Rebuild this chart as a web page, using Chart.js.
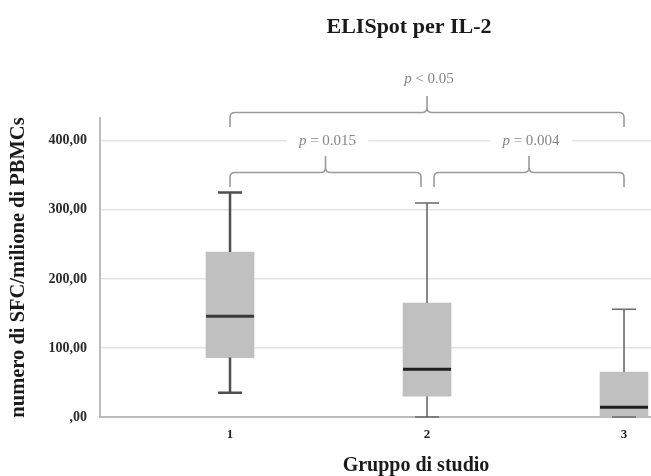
<!DOCTYPE html>
<html>
<head>
<meta charset="utf-8">
<script src="https://cdn.jsdelivr.net/npm/chart.js@4"></script>
<style>
  html, body { margin: 0; padding: 0; background: #fff; overflow: hidden; }
  canvas { display: block; }
</style>
</head>
<body>
<canvas id="boxChart" width="651" height="476"></canvas>
<script>
// ELISpot IL-2 box plot (SFC per million PBMCs)
const groups = [1, 2, 3];
const whiskerLow = [35, 0, 0];
const quartile1 = [86, 30, 0];
const medians = [146, 69, 14];
const quartile3 = [239, 165, 65];
const whiskerHigh = [325, 310, 156];

// significance brackets between groups
const pairFrom = [1, 2, 1];
const pairTo = [2, 3, 3];
const pairBase = [333, 333, 420];
const pairLabel = ['= 0.015', '= 0.004', '< 0.05'];

const yTicks = [0, 100, 200, 300, 400];

const SERIF = '"Liberation Serif", "DejaVu Serif", serif';
const whiskerWidth = [2.5, 1.6, 1.6];
const whiskerColor = ['#4f4f4f', '#6a6a6a', '#6a6a6a'];
const medianColor = ['#3a3a3a', '#1e1e1e', '#1e1e1e'];

const boxPlotPlugin = {
    id: 'boxPlotExtras',
    afterDatasetsDraw(chart) {
        const { ctx, scales: { x, y } } = chart;
        ctx.save();
        groups.forEach((g, i) => {
            const cx = x.getPixelForValue(g);
            const capHalf = 12;
            ctx.strokeStyle = whiskerColor[i];
            ctx.lineWidth = whiskerWidth[i];
            ctx.beginPath();
            // upper whisker
            ctx.moveTo(cx, y.getPixelForValue(quartile3[i]));
            ctx.lineTo(cx, y.getPixelForValue(whiskerHigh[i]));
            ctx.moveTo(cx - capHalf, y.getPixelForValue(whiskerHigh[i]));
            ctx.lineTo(cx + capHalf, y.getPixelForValue(whiskerHigh[i]));
            // lower whisker
            ctx.moveTo(cx, y.getPixelForValue(quartile1[i]));
            ctx.lineTo(cx, y.getPixelForValue(whiskerLow[i]));
            ctx.moveTo(cx - capHalf, y.getPixelForValue(whiskerLow[i]));
            ctx.lineTo(cx + capHalf, y.getPixelForValue(whiskerLow[i]));
            ctx.stroke();

            // median
            ctx.strokeStyle = medianColor[i];
            ctx.lineWidth = 3;
            ctx.beginPath();
            ctx.moveTo(cx - 24, y.getPixelForValue(medians[i]));
            ctx.lineTo(cx + 24, y.getPixelForValue(medians[i]));
            ctx.stroke();
        });
        ctx.restore();
    },
    afterDraw(chart) {
        const { ctx, scales: { x, y } } = chart;
        ctx.save();

        // brackets with p values
        pairFrom.forEach((from, i) => {
            let xa = x.getPixelForValue(from);
            let xb = x.getPixelForValue(pairTo[i]);
            if (from === 2) xa += 7;
            if (pairTo[i] === 2) xb -= 6;
            const yb = y.getPixelForValue(pairBase[i]);
            const yh = yb - 14.5;
            const yt = yb - 31;
            const xm = (xa + xb) / 2;
            const r = 5;

            ctx.strokeStyle = '#9a9a9a';
            ctx.lineWidth = 1.6;
            ctx.beginPath();
            ctx.moveTo(xa, yb);
            ctx.lineTo(xa, yh + r);
            ctx.quadraticCurveTo(xa, yh, xa + r, yh);
            ctx.lineTo(xm - r, yh);
            ctx.quadraticCurveTo(xm, yh, xm, yh - r);
            ctx.lineTo(xm, yt);
            ctx.moveTo(xm, yh - r);
            ctx.quadraticCurveTo(xm, yh, xm + r, yh);
            ctx.lineTo(xb - r, yh);
            ctx.quadraticCurveTo(xb, yh, xb, yh + r);
            ctx.lineTo(xb, yb);
            ctx.stroke();

            // label: italic p + rest, on a white patch that cuts the gridline
            const ly = yb - (i === 2 ? 48 : 46);
            ctx.font = 'italic 15px ' + SERIF;
            const pW = ctx.measureText('p ').width;
            ctx.font = '15px ' + SERIF;
            const restW = ctx.measureText(pairLabel[i]).width;
            const total = pW + restW;
            const lx = xm + 2 - total / 2;
            ctx.fillStyle = '#fff';
            ctx.fillRect(lx - 12, ly - 8, total + 24, 16);
            ctx.fillStyle = '#858585';
            ctx.textBaseline = 'middle';
            ctx.textAlign = 'left';
            ctx.font = 'italic 15px ' + SERIF;
            ctx.fillText('p ', lx, ly);
            ctx.font = '15px ' + SERIF;
            ctx.fillText(pairLabel[i], lx + pW, ly);
        });

        // titles
        ctx.fillStyle = '#1a1a1a';
        ctx.textAlign = 'center';
        ctx.textBaseline = 'alphabetic';
        ctx.font = 'bold 22px ' + SERIF;
        ctx.fillText('ELISpot per IL-2', 409, 33);
        ctx.font = 'bold 20px ' + SERIF;
        ctx.fillText('Gruppo di studio', 416, 471);
        ctx.restore();
    }
};

new Chart(document.getElementById('boxChart'), {
    type: 'bar',
    data: {
        datasets: [{
            data: groups.map((g, i) => ({ x: g, y: [quartile1[i], quartile3[i]] })),
            backgroundColor: '#c0c0c0',
            borderWidth: 0,
            barThickness: 48,
            borderSkipped: false
        }]
    },
    options: {
        responsive: false,
        animation: false,
        layout: { padding: { top: 118, left: 0, right: 0, bottom: 0 } },
        plugins: {
            legend: { display: false },
            tooltip: { enabled: false }
        },
        scales: {
            x: {
                type: 'linear',
                min: 0.34,
                max: 3.137,
                offset: false,
                afterBuildTicks: scale => { scale.ticks = groups.map(v => ({ value: v })); },
                afterFit: scale => { scale.height = 59; },
                grid: { display: false, drawTicks: false },
                border: { color: '#bcbcbc', width: 2 },
                ticks: {
                    padding: 10,
                    color: '#222',
                    font: { family: SERIF, size: 13, weight: 'bold' },
                    callback: v => String(v)
                }
            },
            y: {
                min: 0,
                max: 433,
                afterBuildTicks: scale => { scale.ticks = yTicks.map(v => ({ value: v })); },
                afterFit: scale => { scale.width = 100; },
                grid: { color: '#e4e4e4', lineWidth: 1.5, drawTicks: false },
                border: { color: '#bcbcbc', width: 2 },
                ticks: {
                    padding: 13,
                    color: '#2a2a2a',
                    font: { family: SERIF, size: 14, weight: 'bold' },
                    callback: v => (v === 0 ? ',00' : v + ',00')
                },
                title: {
                    display: true,
                    text: 'numero di SFC/milione di PBMCs',
                    color: '#1a1a1a',
                    font: { family: SERIF, size: 20.5, weight: 'bold' },
                    padding: { top: 6, bottom: 0 }
                }
            }
        }
    },
    plugins: [boxPlotPlugin]
});
</script>
</body>
</html>
